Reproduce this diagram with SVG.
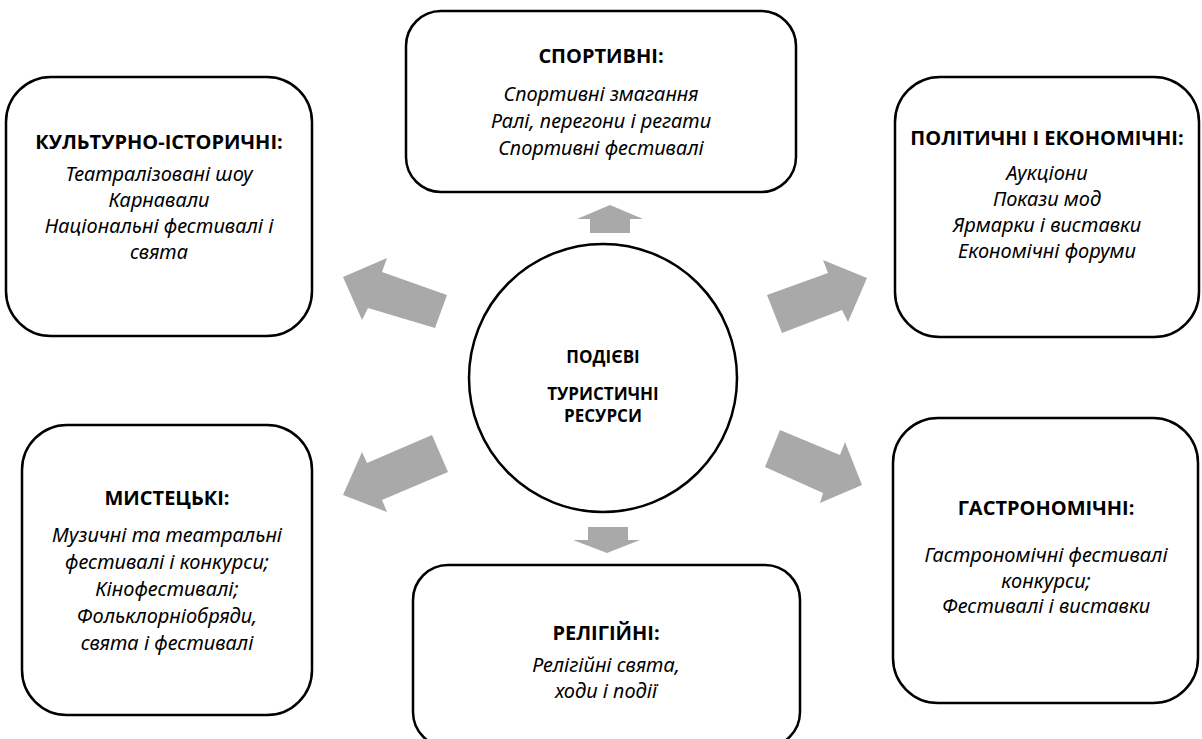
<svg xmlns="http://www.w3.org/2000/svg" width="1202" height="739" viewBox="0 0 1202 739">
<style>
.box{fill:#fff;stroke:#000;stroke-width:2.5}
.t{font-family:"Open Sans","Noto Sans",sans-serif;font-weight:bold;font-size:20px;text-anchor:middle;fill:#000}
.i{font-family:"Noto Sans","Open Sans",sans-serif;font-style:italic;font-size:20px;text-anchor:middle;fill:#000}
.c{font-family:"Open Sans","Noto Sans",sans-serif;font-weight:bold;font-size:17px;text-anchor:middle;fill:#000}
.arr{fill:#A9A9A9}
</style>
<rect width="1202" height="739" fill="#fff"/>
<g id="connectors">
<polygon class="arr" points="590,233 590,219 577,219 610,205 643,219 630,219 630,233"/>
<polygon class="arr" points="588,527 628,527 628,540 640,540 607,553 573,540 588,540"/>
<polygon class="arr" points="343,277 387,258 382,272 447,295 435,328 368,308 362,320"/>
<polygon class="arr" points="867,278 823,260 828,273 767,295 782,333 842,310 848,322"/>
<polygon class="arr" points="343,495 362,452 367,463 432,435 448,472 382,500 387,512"/>
<polygon class="arr" points="862,485 845,442 840,455 780,430 765,467 823,493 820,503"/>
</g>
<g id="center">
<circle cx="603" cy="378" r="134" fill="#fff" stroke="#000" stroke-width="2.5"/>
<text class="c" x="603" y="363">ПОДІЄВІ</text>
<text class="c" x="603" y="400">ТУРИСТИЧНІ</text>
<text class="c" x="603" y="422">РЕСУРСИ</text>
</g>
<g id="cultural">
<rect class="box" x="6" y="77" width="306" height="259" rx="45"/>
<text class="t" x="159" y="149">КУЛЬТУРНО-ІСТОРИЧНІ:</text>
<text class="i" x="159" y="181">Театралізовані шоу</text>
<text class="i" x="159" y="207">Карнавали</text>
<text class="i" x="159" y="233">Національні фестивалі і</text>
<text class="i" x="159" y="259">свята</text>
</g>
<g id="sport">
<rect class="box" x="406" y="11" width="390" height="181" rx="35"/>
<text class="t" x="601" y="63">СПОРТИВНІ:</text>
<text class="i" x="601" y="101">Спортивні змагання</text>
<text class="i" x="601" y="128">Ралі, перегони і регати</text>
<text class="i" x="601" y="155">Спортивні фестивалі</text>
</g>
<g id="political">
<rect class="box" x="895" y="77" width="304" height="260" rx="45"/>
<text class="t" x="1047" y="145">ПОЛІТИЧНІ І ЕКОНОМІЧНІ:</text>
<text class="i" x="1047" y="180">Аукціони</text>
<text class="i" x="1047" y="206">Покази мод</text>
<text class="i" x="1047" y="232">Ярмарки і виставки</text>
<text class="i" x="1047" y="258">Економічні форуми</text>
</g>
<g id="art">
<rect class="box" x="22" y="425" width="290" height="290" rx="45"/>
<text class="t" x="167" y="505">МИСТЕЦЬКІ:</text>
<text class="i" x="167" y="542">Музичні та театральні</text>
<text class="i" x="167" y="569">фестивалі і конкурси;</text>
<text class="i" x="167" y="596">Кінофестивалі;</text>
<text class="i" x="167" y="623">Фольклорніобряди,</text>
<text class="i" x="167" y="650">свята і фестивалі</text>
</g>
<g id="religious">
<rect class="box" x="413" y="565" width="387" height="182" rx="35"/>
<text class="t" x="606" y="640">РЕЛІГІЙНІ:</text>
<text class="i" x="606" y="672">Релігійні свята,</text>
<text class="i" x="606" y="698">ходи і події</text>
</g>
<g id="gastro">
<rect class="box" x="893" y="418" width="305" height="285" rx="45"/>
<text class="t" x="1046" y="515">ГАСТРОНОМІЧНІ:</text>
<text class="i" x="1046" y="562">Гастрономічні фестивалі</text>
<text class="i" x="1046" y="588">конкурси;</text>
<text class="i" x="1046" y="613">Фестивалі і виставки</text>
</g>
</svg>
